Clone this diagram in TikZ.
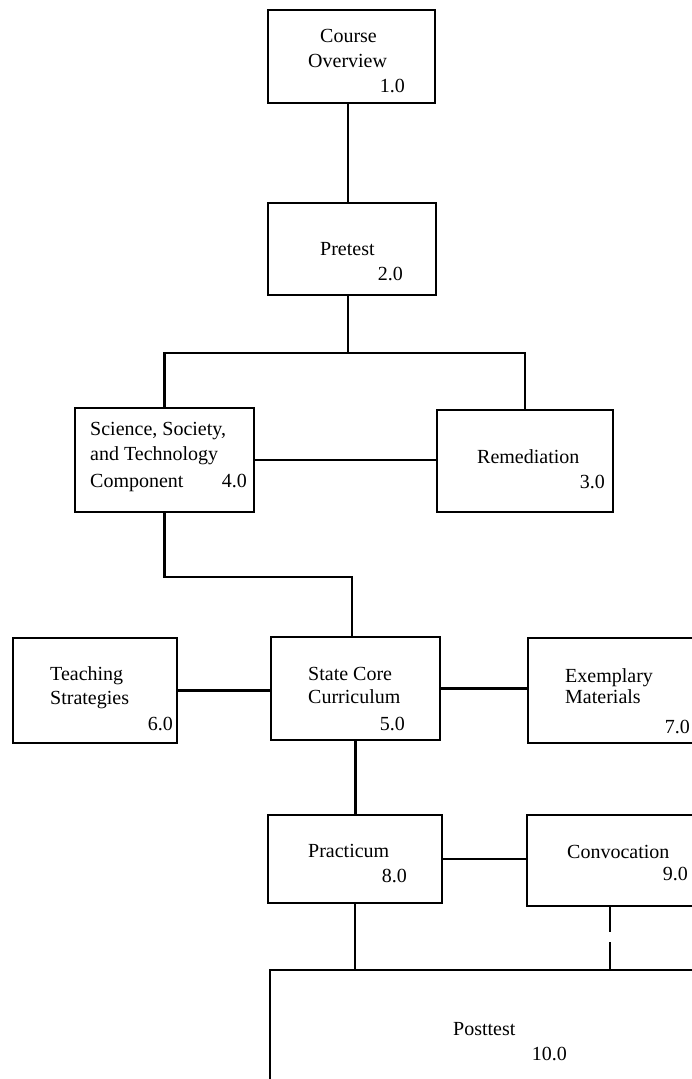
\documentclass[tikz,border=0pt]{standalone}
\usepackage{fontspec}
\setmainfont{Liberation Serif}
\begin{document}
\begin{tikzpicture}[x=1pt,y=-1pt,
  box/.style={draw,line width=2.3pt,rectangle,inner sep=0pt,outer sep=0pt,anchor=north west},
  conn/.style={line width=2.3pt},
  lbl/.style={font=\fontsize{20}{24}\selectfont,inner sep=0pt,anchor=base west},
  num/.style={font=\fontsize{20}{24}\selectfont,inner sep=0pt,anchor=base east}]
\useasboundingbox (0,0) rectangle (692,1079);
\clip (0,0) rectangle (692,1079);
% boxes
\node[box,minimum width=167pt,minimum height=93pt] (b1) at (268,10) {};
\node[box,minimum width=168pt,minimum height=92pt] (b2) at (268,203) {};
\node[box,minimum width=179pt,minimum height=104pt] (b4) at (75,408) {};
\node[box,minimum width=176pt,minimum height=102pt] (b3) at (437,410) {};
\node[box,minimum width=164pt,minimum height=105pt] (b6) at (13,638) {};
\node[box,minimum width=169pt,minimum height=103pt] (b5) at (271,637) {};
\node[box,minimum width=200pt,minimum height=105pt] (b7) at (528,638) {};
\node[box,minimum width=174pt,minimum height=88pt] (b8) at (268,815) {};
\node[box,minimum width=200pt,minimum height=91pt] (b9) at (527,815) {};
\node[box,minimum width=460pt,minimum height=140pt] (b10) at (270,970) {};
% labels
\node[lbl] (t1a) at (320,42) {Course};
\node[lbl] (t1b) at (308,67) {Overview};
\node[num] (t1c) at (405,92) {1.0};
\node[lbl] (t2a) at (320,255) {Pretest};
\node[num] (t2b) at (403,280) {2.0};
\node[lbl] (t4a) at (90,435) {Science, Society,};
\node[lbl] (t4b) at (90,460) {and Technology};
\node[lbl] (t4c) at (90,487) {Component};
\node[num] (t4d) at (247,487) {4.0};
\node[lbl] (t3a) at (477,463) {Remediation};
\node[num] (t3b) at (605,488) {3.0};
\node[lbl] (t6a) at (50,680) {Teaching};
\node[lbl] (t6b) at (50,704) {Strategies};
\node[num] (t6c) at (173,730) {6.0};
\node[lbl] (t5a) at (308,680) {State Core};
\node[lbl] (t5b) at (308,703) {Curriculum};
\node[num] (t5c) at (405,730) {5.0};
\node[lbl] (t7a) at (565,682) {Exemplary};
\node[lbl] (t7b) at (565,703) {Materials};
\node[num] (t7c) at (690,733) {7.0};
\node[lbl] (t8a) at (308,857) {Practicum};
\node[num] (t8b) at (407,882) {8.0};
\node[lbl] (t9a) at (567,858) {Convocation};
\node[num] (t9b) at (688,880) {9.0};
\node[lbl] (t10a) at (453,1035) {Posttest};
\node[num] (t10b) at (567,1060) {10.0};
% junction coordinates
\coordinate (j1) at (348,353);
\coordinate (j2) at (352,577);
\coordinate (c9) at (610,930);
% connectors
\draw[conn] (b1.south -| j1) -- (b2.north -| j1);
\draw[conn] (b2.south -| j1) -- (j1);
\draw[conn] (b4.north) |- (j1) -| (b3.north);
\draw[conn] (b4.east) -- (b4.east -| b3.west);
\draw[conn] (b4.south) |- (j2) -- (j2 |- b5.north);
\draw[conn] (b6.east) -- (b6.east -| b5.west);
\draw[conn] (b5.east) -- (b5.east -| b7.west);
\draw[conn] (b5.south) -- (b5.south |- b8.north);
\draw[conn] (b8.east) -- (b8.east -| b9.west);
\draw[conn] (b8.south) -- (b8.south |- b10.north);
\draw[conn,dash pattern=on 26pt off 10pt on 60pt] (b9.south -| c9) -- (c9 |- b10.north);
\end{tikzpicture}
\end{document}
